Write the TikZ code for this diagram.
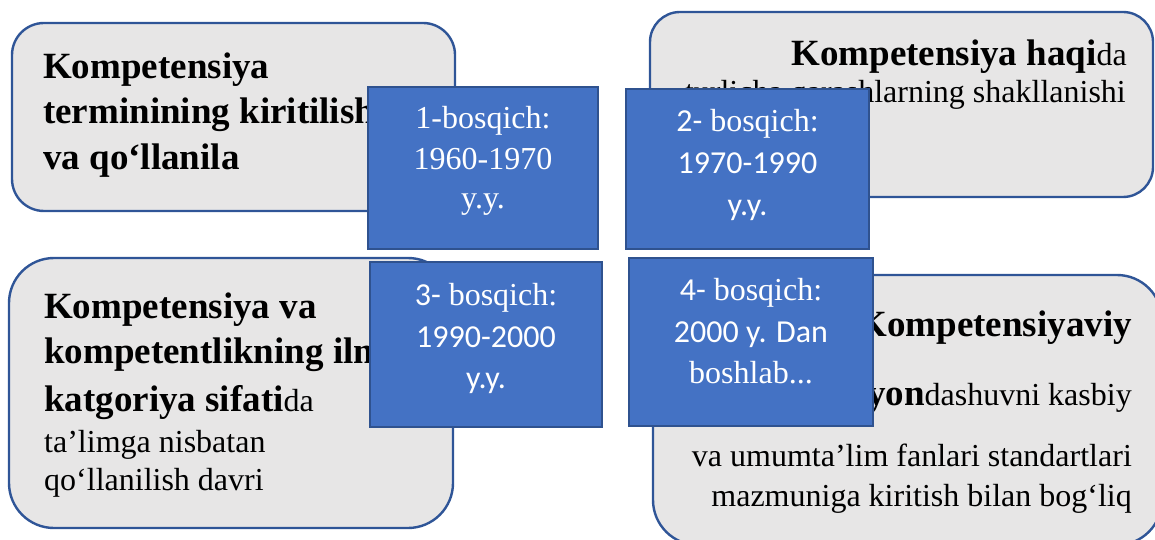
\documentclass[tikz,border=0pt]{standalone}
\usepackage{fontspec}
\setmainfont{Liberation Serif}
\newfontfamily\calibri{Carlito}
\definecolor{panelfill}{RGB}{231,230,230}
\definecolor{panelline}{RGB}{47,85,151}
\definecolor{stagefill}{RGB}{68,114,196}
\definecolor{stageline}{RGB}{47,82,143}
\newcommand\headword[1]{{\fontsize{37}{44}\selectfont\bfseries #1}}
\tikzstyle{panel} = [draw=panelline, fill=panelfill, line width=2.4pt]
\tikzstyle{stage} = [draw=stageline, fill=stagefill, line width=2.6pt, inner sep=0pt]
\tikzstyle{heading} = [font=\fontsize{37}{44}\selectfont\bfseries, inner sep=0pt]
\tikzstyle{plain} = [font=\fontsize{32}{38}\selectfont, inner sep=0pt]
\tikzstyle{stagetext} = [text=white, font=\fontsize{32}{40}\selectfont, inner sep=0pt, anchor=base]

\begin{document}
\begin{tikzpicture}[x=1pt, y=-1pt]
            \useasboundingbox (0,0) rectangle (1155,540);

            % grey panels
            \draw[panel, rounded corners=32pt] (12,23) rectangle (455,211);
            \draw[panel, rounded corners=30pt] (650,12) rectangle (1153,197);
            \draw[panel, rounded corners=45pt] (9,258) rectangle (453,528);
            \draw[panel, rounded corners=45pt] (653,275) rectangle (1162,545);

            \node[heading, anchor=base west] (termin1) at (43,79) {Kompetensiya};
            \node[heading, anchor=base west] (termin2) at (43,124) {terminining kiritilish};
            \node[heading, anchor=base west] (termin3) at (43,169) {va qo‘llanila};

            \node[plain, anchor=base east] (haqida1) at (1127,66) {\headword{Kompetensiya haqi}da};
            \node[plain, anchor=base east] (haqida2) at (1126,103) {turlicha qarashlarning shakllanishi};

            \node[heading, anchor=base west] (ilmiy1) at (44,318) {Kompetensiya va};
            \node[heading, anchor=base west] (ilmiy2) at (44,363) {kompetentlikning ilmiy};
            \node[plain, anchor=base west] (ilmiy3) at (44,411) {\headword{katgoriya sifati}da};
            \node[plain, anchor=base west] (ilmiy4) at (44,452) {ta’limga nisbatan};
            \node[plain, anchor=base west] (ilmiy5) at (44,490) {qo‘llanilish davri};

            \node[heading, anchor=base east] (yondash1) at (1132,336) {Kompetensiyaviy};
            \node[plain, anchor=base east] (yondash2) at (1132,405) {\headword{yon}dashuvni kasbiy};
            \node[plain, anchor=base east] (yondash3) at (1132,466) {va umumta’lim fanlari standartlari};
            \node[plain, anchor=base east] (yondash4) at (1132,506) {mazmuniga kiritish bilan bog‘liq};

            % blue stage boxes
            \node[stage, minimum width=230pt, minimum height=162pt] (stage1) at (483,168) {};
            \node[stage, minimum width=243pt, minimum height=160pt] (stage2) at (747.5,169) {};
            \node[stage, minimum width=232pt, minimum height=165pt] (stage3) at (486,344.5) {};
            \node[stage, minimum width=244pt, minimum height=168pt] (stage4) at (751,342) {};

            \node[stagetext] (s1a) at (483,129) {1-bosqich:};
            \node[stagetext] (s1b) at (483,169) {1960-1970};
            \node[stagetext] (s1c) at (483,208) {y.y.};

            \node[stagetext] (s2a) at (747.5,132) {{\calibri 2-} bosqich:};
            \node[stagetext] (s2b) at (747.5,174) {\calibri 1970-1990};
            \node[stagetext] (s2c) at (747.5,215) {\calibri y.y.};

            \node[stagetext] (s3a) at (486,305) {{\calibri 3-} bosqich:};
            \node[stagetext] (s3b) at (486,347) {\calibri 1990-2000};
            \node[stagetext] (s3c) at (486,388) {\calibri y.y.};

            \node[stagetext] (s4a) at (751,300) {{\calibri 4-} bosqich:};
            \node[stagetext] (s4b) at (751,342) {\calibri 2000 y. Dan};
            \node[stagetext] (s4c) at (751,383) {boshlab...};
        \end{tikzpicture}
\end{document}
